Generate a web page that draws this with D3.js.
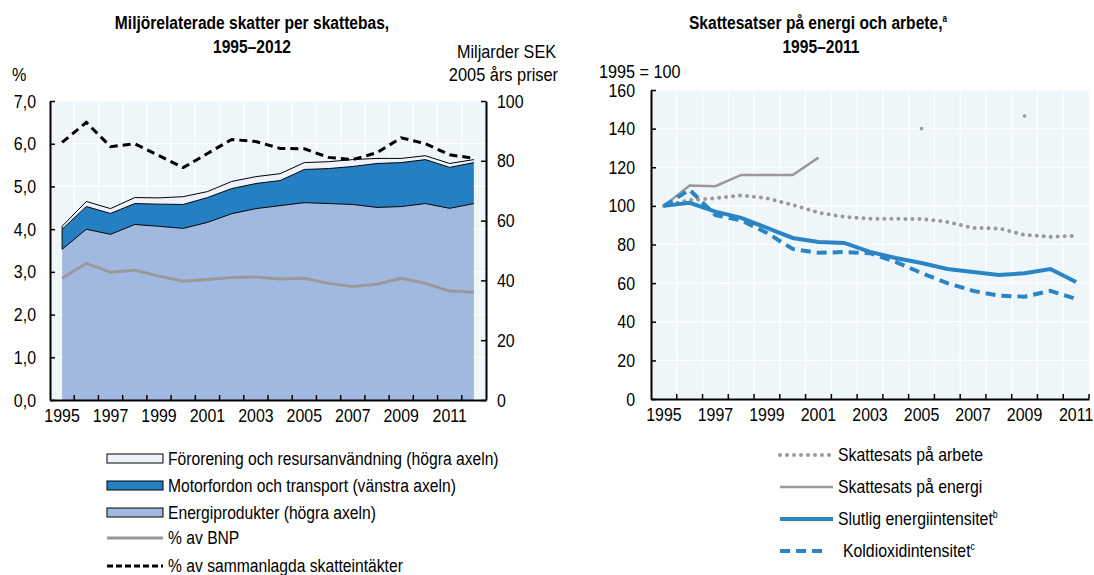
<!DOCTYPE html>
<html>
<head>
<meta charset="utf-8">
<script src="https://cdn.jsdelivr.net/npm/d3@7"></script>
<style>
body { margin: 0; background: #fff; }
text { font-family: "Liberation Sans Narrow", "Arial Narrow", "Liberation Sans", Arial, sans-serif; fill: #000; }
</style>
</head>
<body>
<svg id="chart" width="1094" height="575"></svg>
<script>
// ---- left panel data (1995-2012) ----
var yearsLeft = [1995, 1996, 1997, 1998, 1999, 2000, 2001, 2002, 2003, 2004, 2005, 2006, 2007, 2008, 2009, 2010, 2011, 2012];
// billions SEK, 2005 prices (stacked)
var energiprodukter = [50.4, 57.1, 55.4, 58.7, 58.1, 57.4, 59.4, 62.3, 64.0, 65.0, 66.0, 65.7, 65.4, 64.4, 64.7, 65.7, 64.1, 65.7];
var motorfordon = [6.7, 7.6, 7.0, 7.0, 7.4, 8.0, 8.3, 8.4, 8.4, 8.4, 11.1, 11.7, 12.7, 14.7, 14.7, 14.7, 13.7, 13.7];
var fororening = [1.0, 1.7, 1.6, 2.0, 2.1, 2.6, 2.0, 2.4, 2.3, 2.3, 2.3, 2.3, 2.3, 1.7, 1.4, 1.3, 1.3, 1.0];
// percent
var pctBnp = [2.85, 3.2, 2.99, 3.04, 2.9, 2.78, 2.82, 2.87, 2.88, 2.83, 2.85, 2.73, 2.66, 2.71, 2.85, 2.73, 2.55, 2.52];
var pctSkatt = [6.03, 6.5, 5.93, 6.0, 5.72, 5.44, 5.77, 6.1, 6.05, 5.89, 5.88, 5.68, 5.63, 5.79, 6.14, 6.0, 5.74, 5.66];

var pctTicks = [0, 1, 2, 3, 4, 5, 6, 7];
var sekTicks = [0, 20, 40, 60, 80, 100];
var xLabelsLeft = [1995, 1997, 1999, 2001, 2003, 2005, 2007, 2009, 2011];

// ---- right panel data (1995-2011, 1995 = 100) ----
var yearsRight = [1995, 1996, 1997, 1998, 1999, 2000, 2001, 2002, 2003, 2004, 2005, 2006, 2007, 2008, 2009, 2010, 2011];
var skattArbete = [100, 103, 104, 105.5, 104, 100.5, 96.5, 94.3, 93.3, 93.3, 93.2, 91.7, 88.6, 88.3, 85, 84, 84.5];
var skattEnergi = [100, 110.5, 110.2, 116, 116, 116, 125, null, null, null, 140, null, null, null, 146.5, null, null];
var energiIntensitet = [100, 101.6, 97, 93.8, 88.6, 83.4, 81.3, 80.8, 76.2, 73, 70.4, 67.3, 65.8, 64.2, 65.1, 67.3, 60.6];
var koldioxidIntensitet = [100, 108.3, 95.2, 92.5, 86, 77.7, 75.7, 76.1, 75.5, 71, 65.2, 60, 56, 53.5, 53, 56, 51.8];

var idxTicks = [0, 20, 40, 60, 80, 100, 120, 140, 160];
var xLabelsRight = [1995, 1997, 1999, 2001, 2003, 2005, 2007, 2009, 2011];

var BG = "#eef6fa";
var GREY = "#999999";
var BLUE = "#2a84c6";

var svg = d3.select("#chart");

// squeeze text horizontally around its anchor point (no narrow font installed)
function narrow(sel, k) {
    sel.each(function () {
        var t = d3.select(this);
        var x = +t.attr("x") || 0, y = +t.attr("y") || 0;
        t.attr("transform", "translate(" + x + "," + y + ") scale(" + k + ",1) translate(" + (-x) + "," + (-y) + ")");
    });
}

function styleAxis(g) {
    g.attr("font-family", null).attr("font-size", null);
    g.selectAll("text").style("font-size", "19px").call(narrow, 0.84);
    g.selectAll(".domain").attr("stroke", "#000").attr("stroke-width", 2);
    g.selectAll(".tick line").attr("stroke", "#000").attr("stroke-width", 1.5);
}

// ================= LEFT PANEL =================
var xL = d3.scaleBand().domain(yearsLeft).range([50, 486]);
var yPct = d3.scaleLinear().domain([0, 7]).range([400, 101]);
var ySek = d3.scaleLinear().domain([0, 100]).range([400, 101]);
var cxL = function (y) { return xL(y) + xL.bandwidth() / 2; };

var gL = svg.append("g");
gL.append("rect")
    .attr("x", 50).attr("y", 101)
    .attr("width", 436).attr("height", 299)
    .attr("fill", BG);

gL.selectAll(".hgrid").data(pctTicks).enter().append("line")
    .attr("x1", 50).attr("x2", 486)
    .attr("y1", d => yPct(d)).attr("y2", d => yPct(d))
    .attr("stroke", "#fff").attr("stroke-width", 1.2);

gL.selectAll(".vgrid").data(yearsLeft.slice(1)).enter().append("line")
    .attr("x1", d => xL(d)).attr("x2", d => xL(d))
    .attr("y1", 101).attr("y2", 400)
    .attr("stroke", "#fff").attr("stroke-width", 1.2);

var tableL = yearsLeft.map(function (y, i) {
    return { year: y, energi: energiprodukter[i], motor: motorfordon[i], fororening: fororening[i] };
});
var stackKeys = ["energi", "motor", "fororening"];
var stackColors = { energi: "#a1b9e0", motor: "#2480c2", fororening: "#eef3fb" };
var series = d3.stack().keys(stackKeys)(tableL);

var area = d3.area()
    .x(d => cxL(d.data.year))
    .y0(d => ySek(d[0]))
    .y1(d => ySek(d[1]));
var topLine = d3.line()
    .x(d => cxL(d.data.year))
    .y(d => ySek(d[1]));

gL.selectAll(".layer").data(series).enter().append("path")
    .attr("d", area)
    .attr("fill", d => stackColors[d.key]);
gL.selectAll(".layerTop").data(series).enter().append("path")
    .attr("d", topLine)
    .attr("fill", "none")
    .attr("stroke", "#000").attr("stroke-width", 1);
// left edge of stacked block
gL.append("line")
    .attr("x1", cxL(1995)).attr("x2", cxL(1995))
    .attr("y1", ySek(series[0][0][1])).attr("y2", ySek(series[2][0][1]))
    .attr("stroke", "#000").attr("stroke-width", 1);

var pctLine = d3.line()
    .x((d, i) => cxL(yearsLeft[i]))
    .y(d => yPct(d));

gL.append("path").datum(pctBnp)
    .attr("d", pctLine)
    .attr("fill", "none").attr("stroke", GREY).attr("stroke-width", 3);
gL.append("path").datum(pctSkatt)
    .attr("d", pctLine)
    .attr("fill", "none").attr("stroke", "#000").attr("stroke-width", 3)
    .attr("stroke-dasharray", "8,5");

// axes
gL.append("g").attr("transform", "translate(50,0)")
    .call(d3.axisLeft(yPct).tickValues(pctTicks)
        .tickFormat(d => d3.format(".1f")(d).replace(".", ","))
        .tickSizeInner(-5).tickSizeOuter(0).tickPadding(14))
    .call(styleAxis);

gL.append("g").attr("transform", "translate(486,0)")
    .call(d3.axisRight(ySek).tickValues(sekTicks)
        .tickSizeInner(-5).tickSizeOuter(0).tickPadding(11))
    .call(styleAxis);

var axBL = gL.append("g").attr("transform", "translate(0,400)")
    .call(d3.axisBottom(xL).tickValues(xLabelsLeft)
        .tickSize(0).tickPadding(9))
    .call(styleAxis);
axBL.selectAll(".bt").data(yearsLeft.slice(1)).enter().append("line")
    .attr("x1", d => xL(d)).attr("x2", d => xL(d))
    .attr("y1", -5).attr("y2", 0)
    .attr("stroke", "#000").attr("stroke-width", 1.5);

// titles
gL.append("text").attr("x", 252).attr("y", 29).attr("text-anchor", "middle")
    .style("font-weight", "bold").style("font-size", "19px")
    .text("Miljörelaterade skatter per skattebas,").call(narrow, 0.82);
gL.append("text").attr("x", 252).attr("y", 53).attr("text-anchor", "middle")
    .style("font-weight", "bold").style("font-size", "19px")
    .text("1995–2012").call(narrow, 0.82);
gL.append("text").attr("x", 12).attr("y", 81).style("font-size", "18px").text("%").call(narrow, 0.9);
gL.append("text").attr("x", 556).attr("y", 58).attr("text-anchor", "end")
    .style("font-size", "18px").text("Miljarder SEK").call(narrow, 0.9);
gL.append("text").attr("x", 558).attr("y", 81).attr("text-anchor", "end")
    .style("font-size", "18px").text("2005 års priser").call(narrow, 0.91);

// left legend
var legL = gL.append("g");
var areaLegend = [
    { key: "fororening", label: "Förorening och resursanvändning (högra axeln)" },
    { key: "motor", label: "Motorfordon och transport (vänstra axeln)" },
    { key: "energi", label: "Energiprodukter (högra axeln)" }
];
areaLegend.forEach(function (d, i) {
    var y = 459 + i * 27;
    legL.append("rect").attr("x", 107).attr("y", y - 5).attr("width", 56).attr("height", 9)
        .attr("fill", stackColors[d.key]).attr("stroke", "#000").attr("stroke-width", 1);
    legL.append("text").attr("x", 168).attr("y", y + 6).style("font-size", "18px").text(d.label);
});
legL.append("line").attr("x1", 107).attr("x2", 163).attr("y1", 538).attr("y2", 538)
    .attr("stroke", GREY).attr("stroke-width", 3);
legL.append("text").attr("x", 168).attr("y", 544).style("font-size", "18px").text("% av BNP");
legL.append("line").attr("x1", 107).attr("x2", 163).attr("y1", 566).attr("y2", 566)
    .attr("stroke", "#000").attr("stroke-width", 3).attr("stroke-dasharray", "6,3");
legL.append("text").attr("x", 168).attr("y", 572).style("font-size", "18px").text("% av sammanlagda skatteintäkter");
legL.selectAll("text").call(narrow, 0.87);

// ================= RIGHT PANEL =================
var xR = d3.scaleBand().domain(yearsRight).range([651, 1089]);
var yIdx = d3.scaleLinear().domain([0, 160]).range([399, 90]);
var cxR = function (y) { return xR(y) + xR.bandwidth() / 2; };

var gR = svg.append("g");
gR.append("rect")
    .attr("x", 651).attr("y", 90)
    .attr("width", 438).attr("height", 309)
    .attr("fill", BG);
gR.selectAll(".hgrid").data(idxTicks).enter().append("line")
    .attr("x1", 651).attr("x2", 1089)
    .attr("y1", d => yIdx(d)).attr("y2", d => yIdx(d))
    .attr("stroke", "#fff").attr("stroke-width", 1.2);
gR.selectAll(".vgrid").data(yearsRight.slice(1)).enter().append("line")
    .attr("x1", d => xR(d)).attr("x2", d => xR(d))
    .attr("y1", 90).attr("y2", 399)
    .attr("stroke", "#fff").attr("stroke-width", 1.2);

var idxLine = d3.line()
    .defined(d => d != null)
    .x((d, i) => cxR(yearsRight[i]))
    .y(d => yIdx(d));

gR.append("path").datum(skattArbete)
    .attr("d", idxLine)
    .attr("fill", "none").attr("stroke", GREY).attr("stroke-width", 4)
    .attr("stroke-linecap", "round").attr("stroke-dasharray", "0,7");
gR.append("path").datum(skattEnergi)
    .attr("d", idxLine)
    .attr("fill", "none").attr("stroke", GREY).attr("stroke-width", 2.5);
// isolated observations of the energy tax series
var isolated = skattEnergi.map(function (v, i) {
    var prev = i > 0 ? skattEnergi[i - 1] : null;
    var next = i < skattEnergi.length - 1 ? skattEnergi[i + 1] : null;
    return { year: yearsRight[i], v: v, alone: v != null && prev == null && next == null };
}).filter(d => d.alone);
gR.selectAll(".iso").data(isolated).enter().append("circle")
    .attr("cx", d => cxR(d.year)).attr("cy", d => yIdx(d.v))
    .attr("r", 1.8).attr("fill", GREY);

gR.append("path").datum(energiIntensitet)
    .attr("d", idxLine)
    .attr("fill", "none").attr("stroke", BLUE).attr("stroke-width", 4);
gR.append("path").datum(koldioxidIntensitet)
    .attr("d", idxLine)
    .attr("fill", "none").attr("stroke", BLUE).attr("stroke-width", 4)
    .attr("stroke-dasharray", "10,6");

gR.append("g").attr("transform", "translate(651,0)")
    .call(d3.axisLeft(yIdx).tickValues(idxTicks)
        .tickSizeInner(-5).tickSizeOuter(0).tickPadding(16))
    .call(styleAxis);

var axBR = gR.append("g").attr("transform", "translate(0,399)")
    .call(d3.axisBottom(xR).tickValues(xLabelsRight)
        .tickSize(0).tickPadding(9))
    .call(styleAxis);
axBR.selectAll(".bt").data(yearsRight.slice(1).concat(["end"])).enter().append("line")
    .attr("x1", d => d === "end" ? 1089 : xR(d))
    .attr("x2", d => d === "end" ? 1089 : xR(d))
    .attr("y1", -5).attr("y2", 0)
    .attr("stroke", "#000").attr("stroke-width", 1.5);

var t1 = gR.append("text").attr("x", 818).attr("y", 29).attr("text-anchor", "middle")
    .style("font-weight", "bold").style("font-size", "19px");
t1.append("tspan").text("Skattesatser på energi och arbete,");
t1.append("tspan").attr("dy", -7).style("font-size", "10px").text("a");
t1.call(narrow, 0.82);
gR.append("text").attr("x", 821).attr("y", 53).attr("text-anchor", "middle")
    .style("font-weight", "bold").style("font-size", "19px")
    .text("1995–2011").call(narrow, 0.82);
gR.append("text").attr("x", 599).attr("y", 78).style("font-size", "18px").text("1995 = 100").call(narrow, 0.9);

// right legend
var legR = gR.append("g");
var rightLegend = [
    { label: "Skattesats på arbete", sup: "", color: GREY, w: 4, dash: "0,7", cap: "round", x2: 830, tx: 838 },
    { label: "Skattesats på energi", sup: "", color: GREY, w: 2.5, dash: null, cap: "butt", x2: 833, tx: 838 },
    { label: "Slutlig energiintensitet", sup: "b", color: BLUE, w: 4, dash: null, cap: "butt", x2: 833, tx: 838 },
    { label: "Koldioxidintensitet", sup: "c", color: BLUE, w: 4, dash: "10,6", cap: "butt", x2: 826, tx: 843 }
];
rightLegend.forEach(function (d, i) {
    var y = 455 + i * 32;
    legR.append("line").attr("x1", 780).attr("x2", d.x2).attr("y1", y).attr("y2", y)
        .attr("stroke", d.color).attr("stroke-width", d.w)
        .attr("stroke-dasharray", d.dash).attr("stroke-linecap", d.cap);
    var t = legR.append("text").attr("x", d.tx).attr("y", y + 6).style("font-size", "18px");
    t.append("tspan").text(d.label);
    if (d.sup) t.append("tspan").attr("dy", -7).style("font-size", "10px").text(d.sup);
    t.call(narrow, 0.88);
});
</script>
</body>
</html>
